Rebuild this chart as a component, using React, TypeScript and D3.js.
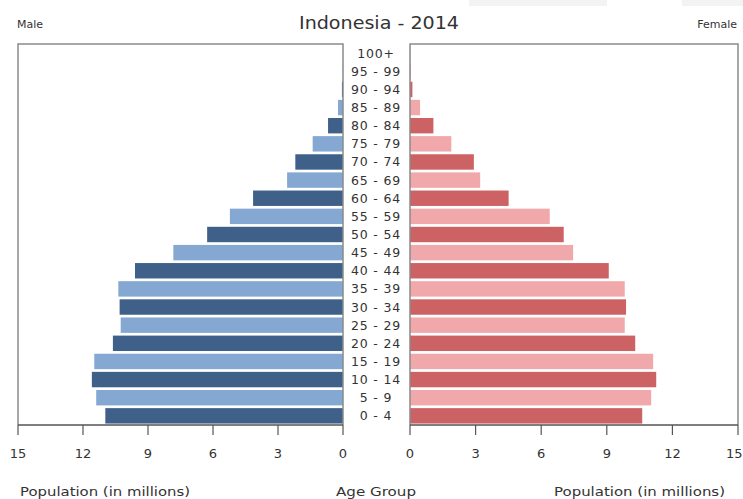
import * as d3 from "d3";

// Age groups, youngest first
const AGES = [
  "0 - 4", "5 - 9", "10 - 14", "15 - 19", "20 - 24", "25 - 29", "30 - 34",
  "35 - 39", "40 - 44", "45 - 49", "50 - 54", "55 - 59", "60 - 64", "65 - 69",
  "70 - 74", "75 - 79", "80 - 84", "85 - 89", "90 - 94", "95 - 99", "100+",
];
// Population in millions
const MALE = [
  10.97, 11.39, 11.59, 11.48, 10.62, 10.26, 10.31, 10.37, 9.6, 7.83, 6.27,
  5.22, 4.15, 2.58, 2.2, 1.4, 0.69, 0.23, 0.05, 0.01, 0.0,
];
const FEMALE = [
  10.62, 11.03, 11.26, 11.12, 10.3, 9.82, 9.88, 9.82, 9.09, 7.46, 7.03, 6.39,
  4.51, 3.21, 2.92, 1.89, 1.07, 0.46, 0.11, 0.04, 0.01,
];
const TICKS = [0, 3, 6, 9, 12, 15];

const W = 743;
const H = 499;
const TOP = 44;
const BOTTOM = 425;
const LEFT_PANEL = { x0: 18, x1: 343 };
const RIGHT_PANEL = { x0: 410, x1: 738 };

const FONT = "'DejaVu Sans', sans-serif";
const TEXT = "#333";
const FRAME = "#8a8a8a";

const MALE_COLORS = ["#3e6089", "#84a8d2"];
const FEMALE_COLORS = ["#cd6264", "#f1a8aa"];

export default function App() {
  const y = d3
    .scaleBand<string>()
    .domain([...AGES].reverse())
    .range([TOP, BOTTOM])
    .paddingInner(0.15)
    .paddingOuter(0.08);

  const xMale = d3.scaleLinear().domain([0, 15]).range([LEFT_PANEL.x1, LEFT_PANEL.x0]);
  const xFemale = d3.scaleLinear().domain([0, 15]).range([RIGHT_PANEL.x0, RIGHT_PANEL.x1]);

  const frame = (x0: number, x1: number) =>
    `M${x0},${BOTTOM}V${TOP}H${x1}V${BOTTOM}`;

  return (
    <svg
      width={W}
      height={H}
      style={{ position: "absolute", left: 0, top: 0, background: "#fff" }}
      fontFamily={FONT}
    >
      {/* faint artefacts at the top */}
      <rect x={469} y={0} width={138} height={6} fill="#f3f3f3" />
      <rect x={682} y={0} width={61} height={6} fill="#f3f3f3" />

      <text x={379} y={29} textAnchor="middle" fontSize={17.5} fill={TEXT}
        textLength={160} lengthAdjust="spacingAndGlyphs">
        Indonesia - 2014
      </text>
      <text x={17} y={28} fontSize={11} fill={TEXT}>
        Male
      </text>
      <text x={737} y={28} fontSize={11} textAnchor="end" fill={TEXT}>
        Female
      </text>

      {/* bars */}
      {AGES.map((age, i) => (
        <g key={age}>
          <rect
            x={xMale(MALE[i])}
            y={y(age)}
            width={xMale(0) - xMale(MALE[i])}
            height={y.bandwidth()}
            fill={MALE_COLORS[i % 2]}
          />
          <rect
            x={xFemale(0)}
            y={y(age)}
            width={xFemale(FEMALE[i]) - xFemale(0)}
            height={y.bandwidth()}
            fill={FEMALE_COLORS[i % 2]}
          />
          <text
            x={376}
            y={(y(age) ?? 0) + y.bandwidth() / 2}
            dy="0.36em"
            textAnchor="middle"
            fontSize={12.5}
            letterSpacing={0.8}
            fill={TEXT}
          >
            {age}
          </text>
        </g>
      ))}

      {/* frames */}
      <path d={frame(LEFT_PANEL.x0, LEFT_PANEL.x1)} fill="none" stroke={FRAME} strokeWidth={1.5} />
      <path d={frame(RIGHT_PANEL.x0, RIGHT_PANEL.x1)} fill="none" stroke={FRAME} strokeWidth={1.5} />

      {/* x axes */}
      {[xMale, xFemale].map((x, k) => (
        <g key={k}>
          <line x1={x.range()[0]} x2={x.range()[1]} y1={BOTTOM} y2={BOTTOM} stroke="#555" strokeWidth={1.5} />
          {TICKS.map((t) => {
            const edge = k === 1 && t === 15;
            return (
              <g key={t} transform={`translate(${x(t)},${BOTTOM})`}>
                <line y2={10} stroke="#555" strokeWidth={1.2} />
                <text
                  x={edge ? 4.5 : 0}
                  y={28}
                  dy="0.36em"
                  textAnchor={edge ? "end" : "middle"}
                  fontSize={13}
                  fill={TEXT}
                >
                  {t}
                </text>
              </g>
            );
          })}
        </g>
      ))}

      <text x={20} y={496} fontSize={12.5} fill={TEXT}
        textLength={170} lengthAdjust="spacingAndGlyphs">
        Population (in millions)
      </text>
      <text x={376} y={496} fontSize={12.5} textAnchor="middle" fill={TEXT}
        textLength={80} lengthAdjust="spacingAndGlyphs">
        Age Group
      </text>
      <text x={554} y={496} fontSize={12.5} fill={TEXT}
        textLength={171} lengthAdjust="spacingAndGlyphs">
        Population (in millions)
      </text>
    </svg>
  );
}
